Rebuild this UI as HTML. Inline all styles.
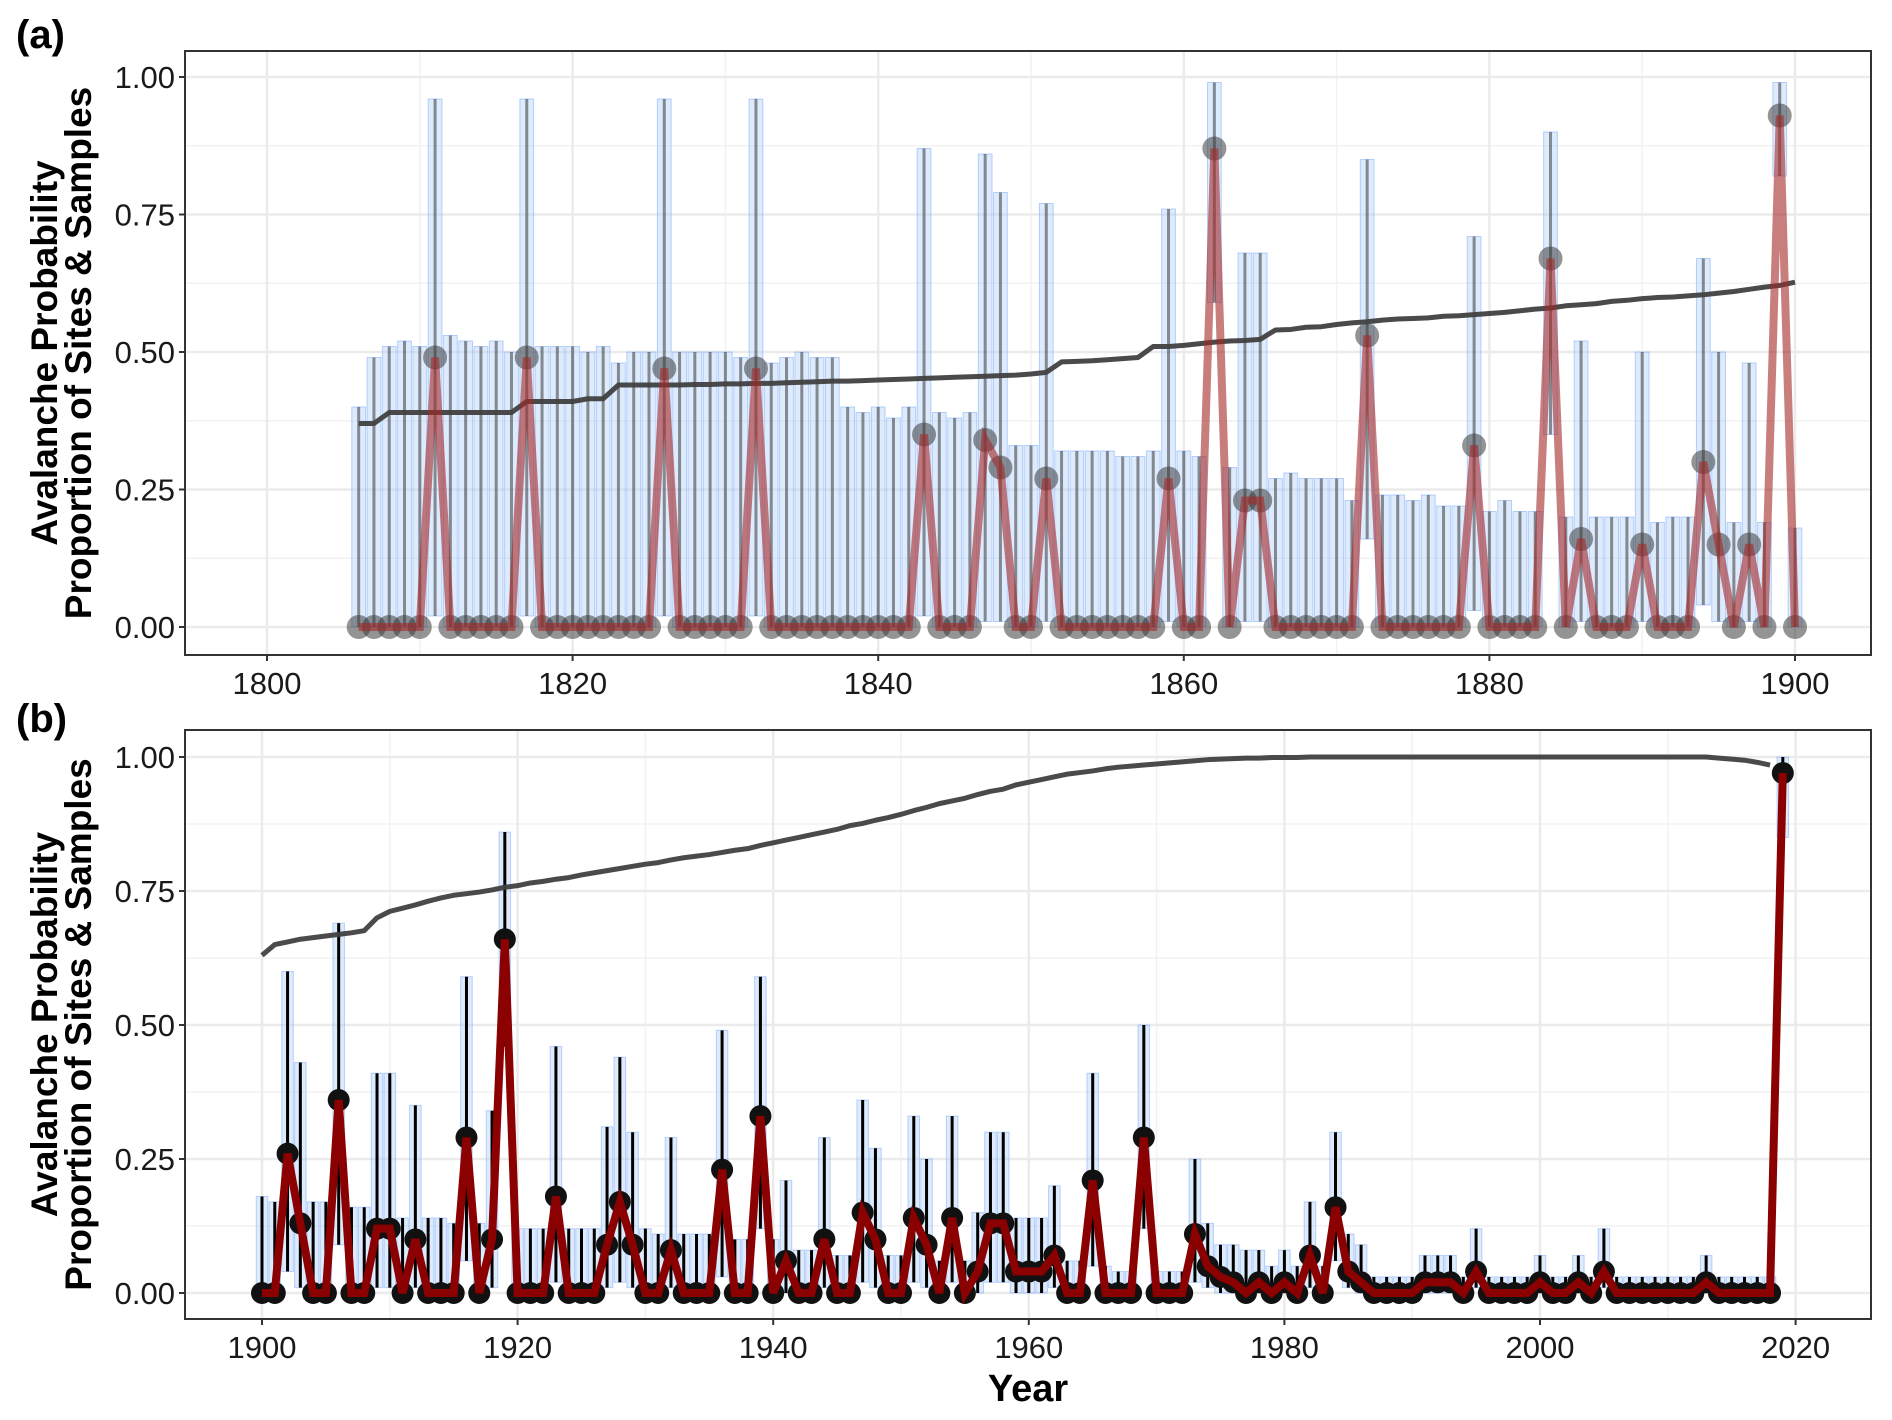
<!DOCTYPE html>
<html><head><meta charset="utf-8"><style>
html,body{margin:0;padding:0;background:#fff;}
svg{display:block;font-family:"Liberation Sans",Arial,sans-serif;}
</style></head><body>
<svg id="chart" width="1892" height="1420" viewBox="0 0 1892 1420"></svg>
<script>
// ---------- Panel (a) data ----------
const yearsA = [];
for (let y = 1806; y <= 1900; y++) yearsA.push(y);
const pointsA = [0,0,0,0,0,0.49,0,0,0,0,0,0.49,0,0,0,0,0,0,0,0,0.47,0,0,0,0,0,0.47,0,0,0,0,0,0,0,0,0,0,0.35,0,0,0,0.34,0.29,0,0,0.27,0,0,0,0,0,0,0,0.27,0,0,0.87,0,0.23,0.23,0,0,0,0,0,0,0.53,0,0,0,0,0,0,0.33,0,0,0,0,0.67,0,0.16,0,0,0,0.15,0,0,0,0.30,0.15,0,0.15,0,0.93,0];
const upperA = [0.40,0.49,0.51,0.52,0.51,0.96,0.53,0.52,0.51,0.52,0.50,0.96,0.51,0.51,0.51,0.50,0.51,0.48,0.50,0.50,0.96,0.50,0.50,0.50,0.50,0.49,0.96,0.48,0.49,0.50,0.49,0.49,0.40,0.39,0.40,0.38,0.40,0.87,0.39,0.38,0.39,0.86,0.79,0.33,0.33,0.77,0.32,0.32,0.32,0.32,0.31,0.31,0.32,0.76,0.32,0.31,0.99,0.29,0.68,0.68,0.27,0.28,0.27,0.27,0.27,0.23,0.85,0.24,0.24,0.23,0.24,0.22,0.22,0.71,0.21,0.23,0.21,0.21,0.90,0.20,0.52,0.20,0.20,0.20,0.50,0.19,0.20,0.20,0.67,0.50,0.19,0.48,0.19,0.99,0.18];
const lowerA = [0,0,0,0,0,0.02,0,0,0,0,0,0.02,0,0,0,0,0,0,0,0,0.02,0,0,0,0,0,0.02,0,0,0,0,0,0,0,0,0,0,0.02,0,0,0,0.01,0.01,0,0,0.01,0,0,0,0,0,0,0,0.01,0,0,0.59,0,0.01,0.01,0,0,0,0,0,0,0.16,0,0,0,0,0,0,0.03,0,0,0,0,0.35,0,0.01,0,0,0,0.01,0,0,0,0.04,0.01,0,0.01,0,0.82,0];
const trendA = [0.37,0.37,0.39,0.39,0.39,0.39,0.39,0.39,0.39,0.39,0.39,0.41,0.41,0.41,0.41,0.415,0.415,0.44,0.44,0.44,0.44,0.44,0.441,0.441,0.442,0.442,0.443,0.443,0.444,0.445,0.446,0.447,0.447,0.448,0.449,0.45,0.451,0.452,0.453,0.454,0.455,0.456,0.457,0.458,0.46,0.463,0.482,0.483,0.484,0.486,0.488,0.49,0.51,0.51,0.512,0.515,0.518,0.52,0.521,0.523,0.54,0.541,0.545,0.546,0.55,0.553,0.555,0.558,0.56,0.561,0.562,0.565,0.566,0.568,0.57,0.572,0.575,0.578,0.58,0.584,0.586,0.588,0.592,0.594,0.597,0.599,0.60,0.602,0.604,0.607,0.61,0.614,0.618,0.621,0.627];
const xTicksA = [1800,1820,1840,1860,1880,1900];

// ---------- Panel (b) data ----------
const yearsB = [];
for (let y = 1900; y <= 2019; y++) yearsB.push(y);
const pointsB = [0,0,0.26,0.13,0,0,0.36,0,0,0.12,0.12,0,0.10,0,0,0,0.29,0,0.10,0.66,0,0,0,0.18,0,0,0,0.09,0.17,0.09,0,0,0.08,0,0,0,0.23,0,0,0.33,0,0.06,0,0,0.10,0,0,0.15,0.10,0,0,0.14,0.09,0,0.14,0,0.04,0.13,0.13,0.04,0.04,0.04,0.07,0,0,0.21,0,0,0,0.29,0,0,0,0.11,0.05,0.03,0.02,0,0.02,0,0.02,0,0.07,0,0.16,0.04,0.02,0,0,0,0,0.02,0.02,0.02,0,0.04,0,0,0,0,0.02,0,0,0.02,0,0.04,0,0,0,0,0,0,0,0.02,0,0,0,0,0,0.97];
const upperB = [0.18,0.17,0.60,0.43,0.17,0.17,0.69,0.16,0.16,0.41,0.41,0.14,0.35,0.14,0.14,0.13,0.59,0.13,0.34,0.86,0.12,0.12,0.12,0.46,0.12,0.12,0.12,0.31,0.44,0.30,0.12,0.11,0.29,0.11,0.11,0.11,0.49,0.10,0.10,0.59,0.10,0.21,0.08,0.08,0.29,0.07,0.07,0.36,0.27,0.07,0.07,0.33,0.25,0.06,0.33,0.06,0.15,0.30,0.30,0.14,0.14,0.14,0.20,0.06,0.06,0.41,0.05,0.04,0.04,0.50,0.04,0.04,0.04,0.25,0.13,0.09,0.09,0.08,0.08,0.05,0.08,0.05,0.17,0.05,0.30,0.11,0.09,0.03,0.03,0.03,0.03,0.07,0.07,0.07,0.03,0.12,0.03,0.03,0.03,0.03,0.07,0.03,0.03,0.07,0.03,0.12,0.03,0.03,0.03,0.03,0.03,0.03,0.03,0.07,0.03,0.03,0.03,0.03,0.03,1.00];
const lowerB = [0,0,0.04,0.01,0,0,0.09,0,0,0.01,0.01,0,0.01,0,0,0,0.06,0,0.01,0.46,0,0,0,0.02,0,0,0,0.01,0.02,0.01,0,0,0.01,0,0,0,0.03,0,0,0.12,0,0,0,0,0.01,0,0,0.02,0.01,0,0,0.02,0.01,0,0.02,0,0,0.02,0.02,0,0,0,0.01,0,0,0.05,0,0,0,0.12,0,0,0,0.02,0.01,0,0,0,0,0,0,0,0.01,0,0.06,0.01,0,0,0,0,0,0,0,0,0,0.01,0,0,0,0,0,0,0,0,0,0.01,0,0,0,0,0,0,0,0,0,0,0,0,0,0.85];
const trendB = [0.63,0.65,0.655,0.66,0.663,0.666,0.669,0.672,0.676,0.70,0.712,0.718,0.724,0.731,0.737,0.742,0.745,0.748,0.752,0.757,0.76,0.765,0.768,0.772,0.775,0.78,0.784,0.788,0.792,0.796,0.80,0.803,0.808,0.812,0.815,0.818,0.822,0.826,0.829,0.835,0.84,0.845,0.85,0.855,0.86,0.865,0.872,0.876,0.882,0.887,0.893,0.90,0.906,0.913,0.918,0.923,0.93,0.936,0.94,0.948,0.953,0.958,0.963,0.968,0.971,0.974,0.978,0.981,0.983,0.985,0.987,0.989,0.991,0.993,0.995,0.996,0.997,0.998,0.998,0.999,0.999,0.999,1,1,1,1,1,1,1,1,1,1,1,1,1,1,1,1,1,1,1,1,1,1,1,1,1,1,1,1,1,1,1,1,0.998,0.996,0.994,0.99,0.985];
const xTicksB = [1900,1920,1940,1960,1980,2000,2020];
const yTicks = [0,0.25,0.5,0.75,1];
const yTickLabels = ["0.00","0.25","0.50","0.75","1.00"];

const NS = "http://www.w3.org/2000/svg";
const svg = document.getElementById('chart');
function mk(tag, attrs, parent) {
  const e = document.createElementNS(NS, tag);
  for (const k in attrs) e.setAttribute(k, attrs[k]);
  (parent || svg).appendChild(e);
  return e;
}

function panel(cfg) {
  const g = mk('g', {});
  
  
  const xS = v => cfg.x0px + (v - cfg.x0v) * cfg.pxPerYear;
  const yS = v => cfg.y0px - v * cfg.pxPerUnit;
  const bg = mk('rect', {x: cfg.L, y: cfg.T, width: cfg.R - cfg.L, height: cfg.B - cfg.T, fill: '#fff'}, g);
  
  
  for (let i = 0; i < yTicks.length - 1; i++) {
    const v = (yTicks[i] + yTicks[i + 1]) / 2;
    mk('line', {x1: cfg.L, x2: cfg.R, y1: yS(v), y2: yS(v), stroke: '#f2f2f2', 'stroke-width': 1.5}, g);
  }
  for (let i = 0; i < cfg.xTicks.length - 1; i++) {
    const v = (cfg.xTicks[i] + cfg.xTicks[i + 1]) / 2;
    if (xS(v) > cfg.L && xS(v) < cfg.R) mk('line', {x1: xS(v), x2: xS(v), y1: cfg.T, y2: cfg.B, stroke: '#f2f2f2', 'stroke-width': 1.5}, g);
  }
  yTicks.forEach(v => {
    const l = mk('line', {x1: cfg.L, x2: cfg.R, y1: yS(v), y2: yS(v), stroke: '#ebebeb', 'stroke-width': 2.5}, g);
    
    
  });
  cfg.xTicks.forEach(v => {
    const l = mk('line', {x1: xS(v), x2: xS(v), y1: cfg.T, y2: cfg.B, stroke: '#ebebeb', 'stroke-width': 2.5}, g);
    
    
  });
  const bw = cfg.pxPerYear * 0.9;
  cfg.years.forEach((yr, i) => {
    const r = mk('rect', {x: xS(yr) - bw / 2, y: yS(cfg.upper[i]), width: bw, height: Math.max(0.5, yS(cfg.lower[i]) - yS(cfg.upper[i])), fill: 'rgba(170,205,250,0.4)', stroke: 'rgba(140,180,245,0.6)', 'stroke-width': 1}, g);
    
    
  });
  cfg.years.forEach((yr, i) => {
    const l = mk('line', {x1: xS(yr), x2: xS(yr), y1: yS(cfg.upper[i]), y2: yS(cfg.lower[i]), stroke: cfg.errColor, 'stroke-width': 3}, g);
    
    
  });
  const tl = mk('polyline', {points: cfg.years.map((yr, i) => xS(yr) + ',' + yS(cfg.trend[i])).join(' '), fill: 'none', stroke: '#404040', 'stroke-width': 5, 'stroke-linejoin': 'round', opacity: 0.95}, g);
  
  
  cfg.years.forEach((yr, i) => {
    const c = mk('circle', {cx: xS(yr), cy: yS(cfg.points[i]), r: cfg.pr, fill: cfg.ptColor}, g);
    
    
  });
  const pl = mk('polyline', {points: cfg.years.map((yr, i) => xS(yr) + ',' + yS(cfg.points[i])).join(' '), fill: 'none', stroke: cfg.lineColor, 'stroke-width': cfg.lw, 'stroke-linejoin': 'miter'}, g);
  
  
  const bd = mk('rect', {x: cfg.L, y: cfg.T, width: cfg.R - cfg.L, height: cfg.B - cfg.T, fill: 'none', stroke: '#333', 'stroke-width': 2}, g);
  
  
  yTicks.forEach((v, i) => {
    mk('line', {x1: cfg.L - 6, x2: cfg.L, y1: yS(v), y2: yS(v), stroke: '#333', 'stroke-width': 2}, g);
    const t = mk('text', {x: cfg.L - 10, y: yS(v) + 11, 'text-anchor': 'end', 'font-size': 31, fill: '#1a1a1a'}, g);
    t.textContent = yTickLabels[i];
    
    
  });
  cfg.xTicks.forEach(v => {
    mk('line', {x1: xS(v), x2: xS(v), y1: cfg.B, y2: cfg.B + 6, stroke: '#333', 'stroke-width': 2}, g);
    const t = mk('text', {x: xS(v), y: cfg.B + 39, 'text-anchor': 'middle', 'font-size': 31, fill: '#1a1a1a'}, g);
    t.textContent = v;
    
    
  });
  const cy = (cfg.T + cfg.B) / 2;
  const t1 = mk('text', {x: 0, y: 0, transform: `translate(57,${cy}) rotate(-90)`, 'text-anchor': 'middle', 'font-size': 37, 'font-weight': 'bold', fill: '#000'}, g);
  t1.textContent = 'Avalanche Probability';
  
  
  const t2 = mk('text', {x: 0, y: 0, transform: `translate(91,${cy}) rotate(-90)`, 'text-anchor': 'middle', 'font-size': 37, 'font-weight': 'bold', fill: '#000'}, g);
  t2.textContent = 'Proportion of Sites & Samples';
  
  
  const lab = mk('text', {x: 16, y: cfg.labelY, 'font-size': 40, 'font-weight': 'bold', fill: '#000'}, g);
  lab.textContent = cfg.label;
  
  
}

panel({name: 'panel-a', L: 185, R: 1871, T: 51, B: 655, x0v: 1800, x0px: 267, pxPerYear: 15.28, y0px: 627, pxPerUnit: 550,
  years: yearsA, points: pointsA, upper: upperA, lower: lowerA, trend: trendA, xTicks: xTicksA,
  errColor: 'rgba(40,40,40,0.5)', ptColor: 'rgba(60,60,60,0.55)', lineColor: 'rgba(165,40,40,0.6)', lw: 8, pr: 12, label: '(a)', labelY: 48});
panel({name: 'panel-b', L: 185, R: 1871, T: 730, B: 1319, x0v: 1900, x0px: 262, pxPerYear: 12.78, y0px: 1293, pxPerUnit: 536,
  years: yearsB, points: pointsB, upper: upperB, lower: lowerB, trend: trendB, xTicks: xTicksB,
  errColor: '#000', ptColor: '#111', lineColor: '#8b0000', lw: 8, pr: 11, label: '(b)', labelY: 732});

const xt = mk('text', {x: 1028, y: 1401, 'text-anchor': 'middle', 'font-size': 38, 'font-weight': 'bold', fill: '#000'});
xt.textContent = 'Year';


</script>
</body></html>
